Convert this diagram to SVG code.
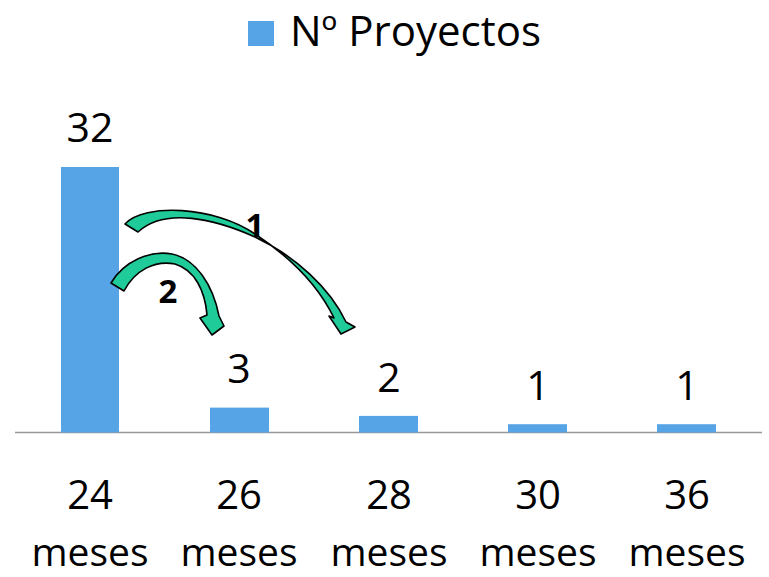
<svg xmlns="http://www.w3.org/2000/svg" width="769" height="577" viewBox="0 0 769 577">
<style>
.bar{fill:#56A4E6}
.t{font-family:"Open Sans","Liberation Sans",sans-serif;fill:#000;text-anchor:middle}
.v{font-size:41px}
.c{font-size:40px}
.m{font-size:39px}
.arr{fill:#1FCB99;stroke:#000;stroke-width:1.6;stroke-linejoin:round}
.n{font-family:"Open Sans","Liberation Sans",sans-serif;font-weight:bold;font-size:33px;fill:#000;text-anchor:middle}
</style>
<rect width="769" height="577" fill="#fff"/>
<g id="legend">
<rect x="248" y="21" width="26" height="25" class="bar"/>
<text x="290" y="46" class="t" style="font-size:42px;text-anchor:start">Nº Proyectos</text>
</g>
<g id="axis">
<line x1="15" y1="432.5" x2="762" y2="432.5" stroke="#999" stroke-width="1.5"/>
</g>
<g id="bar-24">
<rect x="61" y="167" width="58" height="265.5" class="bar"/>
<text x="90" y="142" class="t v">32</text>
<text x="90" y="509" class="t c">24</text>
<text x="90" y="566" class="t m">meses</text>
</g>
<g id="bar-26">
<rect x="210" y="407.6" width="59" height="24.9" class="bar"/>
<text x="239" y="383" class="t v">3</text>
<text x="239" y="509" class="t c">26</text>
<text x="239" y="566" class="t m">meses</text>
</g>
<g id="bar-28">
<rect x="359" y="415.9" width="59" height="16.6" class="bar"/>
<text x="389" y="392" class="t v">2</text>
<text x="389" y="509" class="t c">28</text>
<text x="389" y="566" class="t m">meses</text>
</g>
<g id="bar-30">
<rect x="508" y="424.2" width="59" height="8.3" class="bar"/>
<text x="538" y="400" class="t v">1</text>
<text x="538" y="509" class="t c">30</text>
<text x="538" y="566" class="t m">meses</text>
</g>
<g id="bar-36">
<rect x="657" y="424.2" width="59" height="8.3" class="bar"/>
<text x="687" y="400" class="t v">1</text>
<text x="687" y="509" class="t c">36</text>
<text x="687" y="566" class="t m">meses</text>
</g>
<g id="connectors">
<path class="arr" d="M125,224 C144,203 215,206 255,234 C290,257 318,285 334,318 L329,316 L341,334 L355,327 L346,322 C330,288 295,256 255,237 C215,219 165,207 138,232 Z"/>
<path class="arr" d="M111,283 C124,261 150,250 172,254 C196,259 213,285 219,316 L224,326 L212,335 L200,318 L207,315 C205,291 195,270 175,264 C155,260 135,270 124,291 Z"/>
<text x="255" y="237" class="n">1</text>
<text x="168" y="303" class="n">2</text>
</g>
</svg>
